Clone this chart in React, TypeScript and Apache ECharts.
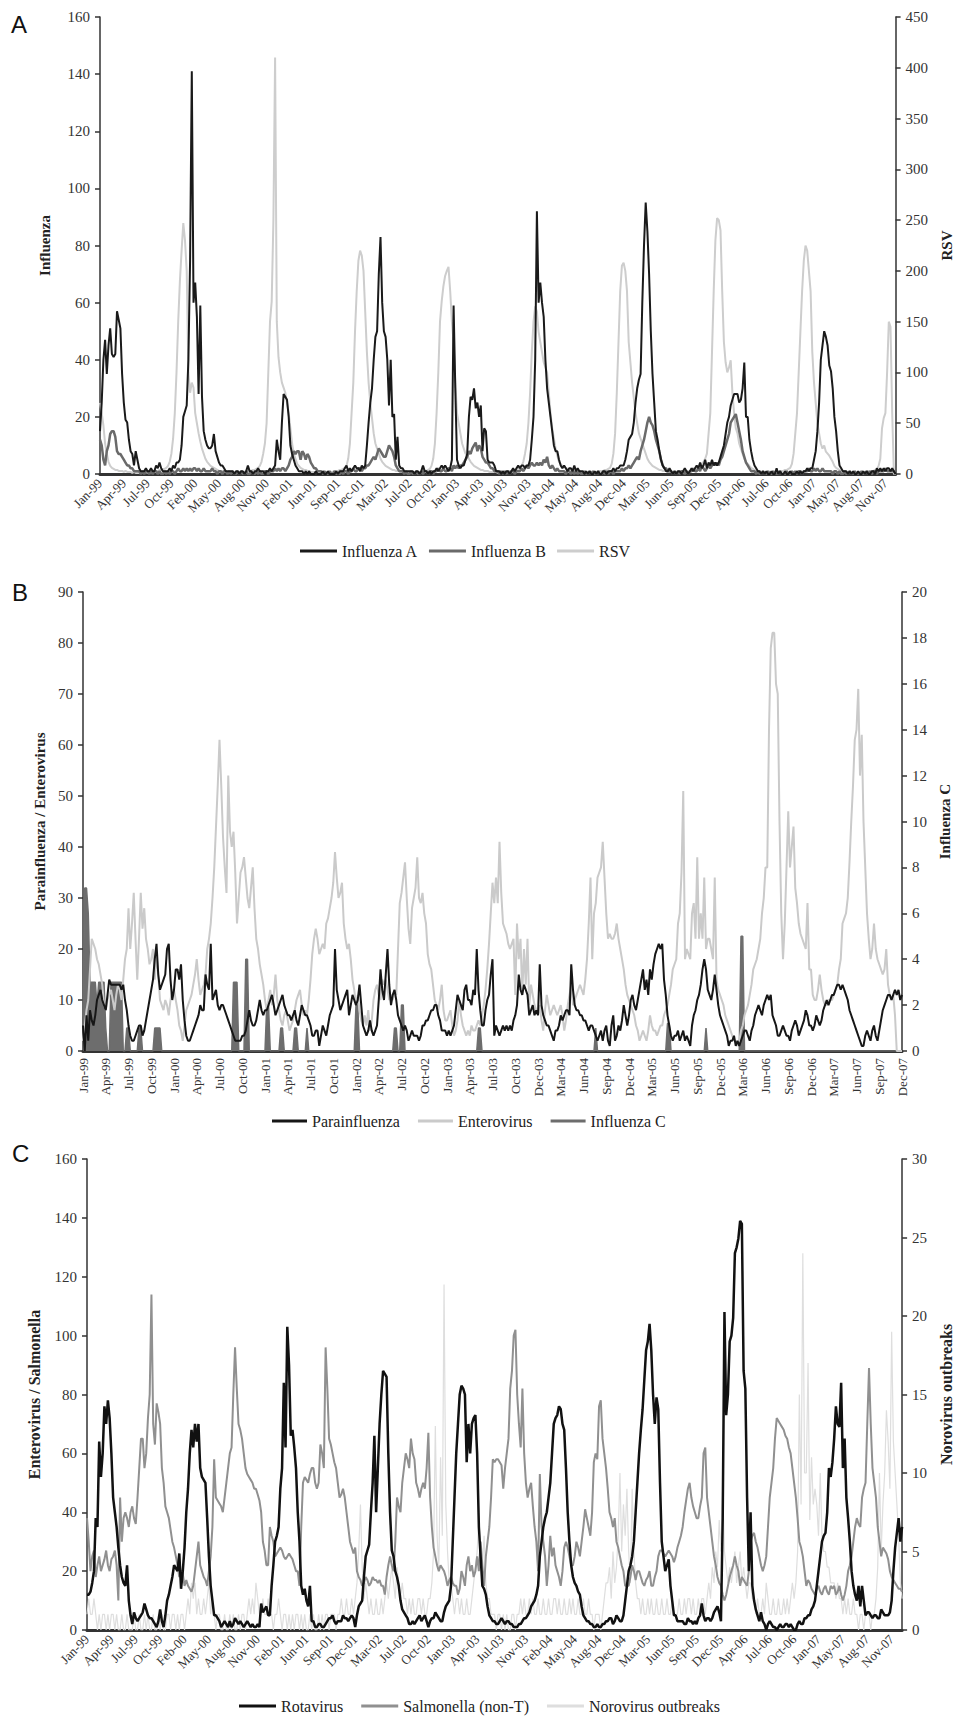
import React, { useEffect, useRef } from 'react';
import * as echarts from 'echarts';

const SERIF = 'Liberation Serif';
const SANS = 'Liberation Sans';

// Tick labels (weekly categories, Jan 1999 - Dec 2007)
const labelsAC = ['Jan-99','Apr-99','Jul-99','Oct-99','Feb-00','May-00','Aug-00','Nov-00','Feb-01','Jun-01','Sep-01','Dec-01','Mar-02','Jul-02','Oct-02','Jan-03','Apr-03','Jul-03','Nov-03','Feb-04','May-04','Aug-04','Dec-04','Mar-05','Jun-05','Sep-05','Dec-05','Apr-06','Jul-06','Oct-06','Jan-07','May-07','Aug-07','Nov-07'];
const labelsB = ['Jan-99','Apr-99','Jul-99','Oct-99','Jan-00','Apr-00','Jul-00','Oct-00','Jan-01','Apr-01','Jul-01','Oct-01','Jan-02','Apr-02','Jul-02','Oct-02','Jan-03','Apr-03','Jul-03','Oct-03','Dec-03','Mar-04','Jun-04','Sep-04','Dec-04','Mar-05','Jun-05','Sep-05','Dec-05','Mar-06','Jun-06','Sep-06','Dec-06','Mar-07','Jun-07','Sep-07','Dec-07'];

// Panel A (weekly counts)
const influenzaA = [
15,25,40,47,35,45,51,42,41,42,57,54,51,
35,25,19,18,12,8,7,3,8,5,2,1,1,
1,2,1,1,2,1,1,3,2,4,2,1,1,
1,1,2,1,3,2,4,4,5,10,20,22,24,
40,75,141,60,67,55,28,59,27,15,12,10,9,
9,10,14,8,6,4,3,3,2,1,1,1,1,
1,0,1,1,0,1,1,0,1,3,1,1,0,
1,1,2,1,1,1,0,1,1,2,1,2,3,
12,8,5,18,28,27,26,20,10,7,5,3,2,
1,1,1,0,1,0,1,0,0,0,1,0,0,
0,1,0,0,1,0,0,0,0,1,0,1,1,
1,2,3,1,2,1,2,3,2,2,1,3,2,
3,10,18,25,30,40,48,50,70,83,60,50,48,
40,24,40,20,21,5,13,3,2,2,1,1,1,
1,1,1,0,1,1,0,1,3,1,1,0,1,
0,1,1,2,1,2,3,2,3,2,1,2,5,
59,30,5,3,2,3,3,5,7,20,27,26,30,
23,25,20,24,8,16,15,5,4,4,4,3,1,
1,1,0,1,0,1,1,0,1,2,1,2,3,
2,3,3,2,3,3,5,12,20,40,92,60,67,
60,55,40,30,25,20,15,10,8,8,5,3,2,
3,2,1,2,2,1,3,1,2,1,1,1,0,
1,0,1,0,0,1,0,1,0,0,1,1,0,
1,1,1,2,1,2,2,3,3,3,5,8,12,
13,14,18,25,30,33,35,60,80,95,85,70,50,
35,25,15,12,8,5,3,2,1,1,2,1,0,
1,0,1,1,0,1,2,1,0,1,2,1,2,
3,2,4,2,3,5,2,4,3,5,3,4,3,
4,6,8,10,14,18,20,24,26,28,28,28,25,
26,30,39,20,20,12,8,5,3,2,1,1,0,
1,0,1,0,0,1,0,0,2,0,1,0,0,
1,0,0,1,0,0,0,1,0,1,0,1,1,
2,1,2,2,5,8,15,25,40,45,50,48,45,
38,36,30,20,15,8,3,2,1,1,1,0,1,
0,1,0,0,1,0,0,1,0,1,0,0,1,
1,0,2,1,2,1,2,1,2,2,1,2,1,
0];

const influenzaB = [
12,10,5,3,8,10,14,15,15,13,8,7,7,
6,5,4,3,3,2,2,1,1,1,1,0,1,
0,1,1,0,1,0,1,1,0,1,0,0,1,
0,1,0,1,1,0,1,2,1,1,2,1,2,
1,2,1,2,2,1,2,1,1,2,1,1,1,
1,2,1,1,0,1,1,0,1,1,0,1,0,
1,0,0,1,0,1,0,0,1,0,0,1,0,
0,1,0,1,0,0,1,1,0,1,1,1,2,
1,2,1,2,2,1,2,3,5,6,8,7,8,
8,5,8,7,5,7,6,4,3,2,2,1,1,
1,0,1,0,0,1,0,0,1,0,0,0,1,
0,1,1,0,1,1,2,1,1,2,2,1,2,
2,3,3,4,5,6,5,7,9,8,7,6,6,
8,10,9,8,6,3,2,1,1,1,0,1,0,
0,1,0,0,1,0,0,1,0,1,1,0,1,
1,0,1,1,2,1,1,2,1,1,2,2,1,
3,2,3,2,3,3,4,5,6,8,7,9,10,
11,8,10,9,6,5,4,4,3,2,2,1,1,
1,0,1,0,1,0,1,0,1,1,0,1,1,
1,2,1,2,3,2,3,4,3,3,4,3,4,
3,5,4,6,3,2,3,2,1,2,1,1,1,
1,0,1,1,0,1,0,1,0,1,0,0,1,
0,0,1,0,1,0,0,1,0,0,1,0,1,
0,1,1,0,1,1,1,1,2,1,2,2,3,
2,3,4,5,6,5,8,10,12,15,18,20,18,
17,15,12,10,8,5,3,2,2,1,1,1,0,
1,0,1,0,1,1,0,1,0,1,1,2,1,
1,2,1,3,2,1,2,3,2,3,4,3,4,
3,5,6,8,10,12,14,18,19,20,21,18,15,
12,8,6,4,3,2,1,1,1,0,1,0,0,
1,0,0,1,0,0,1,0,0,0,1,0,0,
0,1,0,0,1,0,1,0,1,1,0,1,1,
1,2,1,1,2,1,2,1,1,2,1,1,1,
1,1,0,1,1,0,1,0,0,1,0,0,1,
0,0,1,0,0,0,1,0,0,1,0,1,0,
1,1,0,1,1,1,1,2,1,1,1,1,1,
0];

const rsv = [
70,60,48,30,20,12,8,6,5,4,4,3,3,
3,2,3,2,2,2,1,2,1,1,1,1,2,
1,2,1,2,2,3,2,3,3,4,4,5,5,
6,8,12,20,35,60,100,150,190,220,247,230,200,
100,80,90,85,60,50,40,32,25,20,15,12,10,
8,7,6,5,4,3,3,3,2,2,2,2,1,
2,1,2,2,2,1,2,2,3,3,3,3,4,
4,5,6,8,12,20,30,50,100,150,170,250,410,
150,115,100,90,85,80,70,60,45,30,20,15,10,
8,6,5,4,4,3,3,2,2,2,2,1,1,
1,1,2,1,1,2,2,2,3,3,3,4,4,
5,6,8,15,30,60,90,140,180,210,220,215,200,
160,120,90,70,55,40,30,25,20,15,12,10,8,
7,6,5,4,4,3,3,3,2,2,2,2,1,
2,1,2,2,1,2,2,2,3,3,3,4,5,
8,15,30,60,100,150,170,185,195,200,204,180,150,
130,90,60,50,40,30,25,20,18,15,12,10,8,
7,6,5,4,4,3,3,3,2,2,2,2,2,
1,2,2,1,2,2,2,3,3,3,4,4,5,
6,8,12,20,30,50,80,120,150,165,160,140,130,
120,110,105,100,80,60,45,35,25,18,12,10,8,
7,6,5,5,4,4,3,3,3,2,2,2,2,
2,1,2,2,1,2,2,2,3,3,3,4,4,
5,6,10,20,40,80,130,180,205,208,200,180,130,
110,90,75,60,50,40,35,30,25,20,15,12,10,
8,7,6,5,4,4,3,3,3,2,2,2,2,
2,1,2,2,2,1,2,3,2,3,3,4,5,
6,7,8,10,12,15,20,40,60,120,180,230,252,
250,240,180,130,110,100,105,112,80,60,45,40,30,
25,20,15,12,10,8,6,5,4,3,3,3,2,
2,2,1,2,2,2,1,2,2,2,3,3,3,
4,4,5,6,10,20,40,60,100,140,180,210,225,
220,200,180,120,90,70,50,40,30,25,28,22,20,
18,15,12,8,6,5,4,3,3,3,2,2,2,
1,2,2,1,2,2,2,1,2,2,3,2,3,
3,4,5,8,15,45,55,60,100,150,145,60,0,
0];

// Panel B (weekly counts)
const parainfluenza = [
5,0,7,2,8,6,5,7,10,11,12,10,9,
8,11,14,13,13,13,13,13,13,12,13,10,8,
5,3,2,2,3,4,5,5,3,4,6,8,10,
12,14,18,21,15,12,13,14,15,20,21,14,10,
12,16,16,14,17,10,6,3,2,2,3,4,5,
6,7,9,8,8,15,13,12,21,10,11,12,9,
8,9,9,8,7,6,5,4,3,2,2,2,2,
3,3,4,6,8,6,5,5,6,8,10,8,7,
8,8,9,10,11,9,7,8,9,10,11,9,8,
7,7,6,7,8,6,5,7,9,8,7,7,6,
5,3,3,4,4,1,3,5,4,3,5,7,8,
9,20,12,10,8,9,10,11,12,7,9,11,10,
9,10,13,9,5,4,3,4,6,4,3,4,5,
10,16,12,10,15,20,13,9,11,12,10,7,6,
5,4,5,4,2,3,4,3,3,3,2,3,5,
5,6,6,7,8,8,9,9,7,6,4,4,4,
3,4,3,4,5,8,11,10,9,8,12,13,10,
10,9,12,11,20,12,8,5,5,8,10,11,15,
18,3,5,4,3,4,5,4,5,4,5,4,6,
7,9,15,12,11,13,12,11,7,8,9,7,8,
7,17,9,7,6,5,5,4,3,2,4,4,5,
7,6,7,8,8,7,17,12,9,8,8,7,7,
6,6,5,4,5,5,4,3,2,3,4,2,4,
5,2,1,5,7,2,3,5,4,6,9,7,5,
7,10,11,9,8,10,12,14,16,12,14,11,16,
14,17,19,20,21,20,21,14,11,7,5,3,2,
3,3,4,2,3,4,2,3,2,1,5,7,8,
10,11,13,16,18,16,12,11,10,12,15,12,9,
7,6,5,4,3,1,2,2,3,1,2,1,2,
3,4,4,3,2,4,5,7,8,9,8,7,9,
10,11,10,11,7,6,5,3,3,4,5,4,3,
3,2,4,5,6,5,3,4,5,6,8,7,5,
5,4,5,7,6,5,6,8,9,10,9,10,11,
11,12,13,13,12,13,12,11,10,8,7,6,5,
4,3,2,1,1,3,4,3,2,4,5,3,2,
4,6,8,9,10,11,11,10,11,12,11,12,10,
11];

const enterovirus = [
2,5,8,10,16,22,21,20,18,17,15,13,9,
8,10,11,12,10,8,11,13,12,10,14,18,20,
28,20,25,31,22,14,22,31,24,28,22,20,17,
18,20,14,19,15,10,9,8,10,9,7,10,12,
12,10,8,5,4,2,5,8,9,10,11,13,15,
18,14,11,12,13,15,20,22,25,30,36,44,52,
61,52,42,36,31,54,43,40,43,35,25,30,35,
36,38,34,30,28,32,36,28,22,20,17,15,13,
10,8,10,12,9,11,15,10,8,6,5,7,8,
6,4,5,6,8,10,11,12,9,7,8,7,10,
14,19,22,24,22,19,20,21,20,25,26,28,30,
33,39,34,30,31,33,25,22,20,21,18,14,12,
9,11,8,6,5,7,5,8,4,6,10,12,13,
11,10,14,13,14,12,10,11,10,12,11,20,29,
31,34,37,30,24,21,28,30,32,38,30,29,31,
27,25,19,17,16,13,10,9,8,10,13,8,6,
6,7,8,5,3,4,6,10,7,5,4,3,4,
3,5,4,4,5,6,5,7,9,12,16,21,27,
33,29,34,29,41,31,25,24,23,21,20,21,22,
11,25,18,22,11,20,13,22,9,13,11,9,8,
7,9,6,4,8,11,9,7,8,9,8,7,8,
9,7,4,6,9,11,13,9,10,11,12,13,12,
11,14,18,25,34,18,27,29,34,35,36,41,34,
27,22,23,22,22,23,25,22,20,18,16,13,11,
10,9,8,7,5,4,2,3,4,3,2,4,7,
5,4,4,3,4,5,5,7,8,9,11,13,16,
17,18,25,27,35,51,18,20,19,18,27,29,22,
38,22,27,22,34,20,22,22,20,18,34,14,12,
11,10,9,7,6,5,4,3,2,2,1,2,4,
5,7,8,9,11,13,16,17,18,20,22,27,30,
36,36,63,79,82,82,72,70,45,27,18,25,36,
47,36,40,44,32,29,25,23,22,21,20,29,16,
16,11,10,10,12,15,12,10,9,9,10,10,10,
11,12,13,16,18,25,26,27,30,37,45,52,61,
63,71,54,62,45,36,27,22,18,20,25,20,18,
17,16,15,16,20,13,11,10,11,7,0,0,0,
0];

const influenzaC = [
1.5,7.1,7.1,6,3,3,3,3,2,3,3,3,3,
1,0,0,3,3,3,3,3,3,3,0,0,1,
1,0,0,0,0,0,1,1,0,0,0,0,0,
0,0,1,1,1,1,0,0,0,0,0,0,0,
0,0,0,0,0,0,0,0,0,0,0,0,0,
0,0,0,0,0,0,0,0,0,0,0,0,0,
0,0,0,0,0,0,0,0,3,3,3,0,0,
0,0,4,4,0,0,0,0,0,0,0,0,0,
0,2,2,0,0,0,0,0,0,1,1,0,0,
0,0,0,0,1,1,0,0,0,0,0,1,0,
0,0,0,0,0,0,0,0,0,0,0,0,0,
0,0,0,0,0,0,0,0,0,0,0,0,0,
2,2,0,0,0,0,0,0,0,0,0,0,0,
0,0,0,0,0,0,0,0,0,1,1,0,0,
2,2,0,0,0,0,0,0,0,0,0,0,0,
0,0,0,0,0,0,0,0,0,0,0,0,0,
0,0,0,0,0,0,0,0,0,0,0,0,0,
0,0,0,0,0,1,1,0,0,0,0,0,0,
0,0,0,0,0,0,0,0,0,0,0,0,0,
0,0,0,0,0,0,0,0,0,0,0,0,0,
0,0,0,0,0,0,0,0,0,0,0,0,0,
0,0,0,0,0,0,0,0,0,0,0,0,0,
0,0,0,0,0,0,0,1,0,0,0,0,0,
0,0,0,0,0,0,0,0,0,0,0,0,0,
0,0,0,0,0,0,0,0,0,0,0,0,0,
0,0,0,0,0,0,0,0,0,1.2,1.2,0,0,
0,0,0,0,0,0,0,0,0,0,0,0,0,
0,0,0,0,0,1,0,0,0,0,0,0,0,
0,0,0,0,0,0,0,0,0,0,0,0,5,
5,0,0,0,0,0,0,0,0,0,0,0,0,
0,0,0,0,0,0,0,0,0,0,0,0,0,
0,0,0,0,0,0,0,0,0,0,0,0,0,
0,0,0,0,0,0,0,0,0,0,0,0,0,
0,0,0,0,0,0,0,0,0,0,0,0,0,
0,0,0,0,0,0,0,0,0,0,0,0,0,
0,0,0,0,0,0,0,0,0,0,0,0,0,
0];

// Panel C (weekly counts)
const rotavirus = [
12,12,13,16,20,38,35,64,52,60,76,70,78,
72,60,45,40,35,28,22,18,16,15,22,10,5,
2,6,4,3,4,5,6,9,7,5,4,4,3,
2,1,3,7,3,1,5,10,12,15,18,22,21,
20,26,14,20,28,40,48,60,68,62,70,64,70,
55,52,51,50,38,25,15,10,5,5,4,3,1,
2,3,2,1,3,1,2,4,3,2,3,2,1,
2,3,2,1,2,1,1,2,1,9,6,7,8,
5,5,15,22,30,32,35,48,55,84,62,103,90,
66,68,62,55,40,30,15,12,14,10,8,15,3,
3,1,1,2,2,1,1,2,3,4,4,5,3,
2,3,3,3,5,4,4,3,4,5,4,1,5,
8,9,10,18,25,27,29,40,50,66,40,55,70,
80,88,87,86,60,40,27,25,20,18,15,10,7,
6,5,4,2,2,3,2,3,4,5,3,4,5,
3,1,3,4,4,6,5,4,3,3,6,8,9,
10,15,30,45,60,70,80,83,82,80,57,70,60,
70,72,73,60,35,25,15,14,12,8,5,4,3,
3,2,2,3,4,3,2,3,3,2,2,1,1,
1,2,2,3,4,4,5,6,8,9,10,12,15,
25,30,35,38,40,45,50,60,70,72,73,76,75,
70,68,55,40,30,22,18,16,15,13,12,8,5,
4,3,3,2,2,1,1,2,1,1,2,2,3,
3,4,4,2,3,5,4,3,3,5,10,15,20,
22,25,30,40,50,60,68,75,85,95,98,104,95,
80,70,79,75,50,30,25,20,22,24,15,10,5,
5,3,3,3,3,2,2,4,3,3,2,3,2,
4,5,9,5,3,4,4,3,4,6,7,8,6,
3,38,108,73,80,98,100,106,128,130,133,139,138,
88,82,45,20,40,15,10,7,5,3,6,3,2,
0,2,3,2,1,1,0,1,2,1,1,2,2,
1,2,1,0,0,2,3,2,2,4,4,5,5,
7,8,10,15,20,25,30,32,33,40,55,52,57,
65,76,70,69,84,55,65,45,38,30,20,15,12,
10,15,8,15,10,5,6,6,5,4,5,5,4,
4,7,6,5,5,5,6,10,20,28,33,38,30,
35];

const salmonella = [
38,30,20,25,27,18,22,25,20,22,24,27,22,
20,24,25,27,22,10,45,30,38,40,38,35,40,
42,38,36,45,55,65,65,55,60,72,80,114,70,
63,77,74,70,55,50,42,40,38,34,30,28,25,
22,18,20,19,15,17,15,14,13,15,20,25,30,
22,20,18,17,15,20,25,35,58,45,44,43,42,
40,45,50,55,60,62,80,96,82,70,68,65,60,
55,53,52,51,50,48,48,46,44,40,30,27,22,
22,35,32,30,25,26,27,28,27,25,24,25,26,
25,24,22,20,20,15,35,50,52,51,50,53,55,
55,50,48,50,63,60,55,96,82,65,63,60,57,
55,50,45,46,48,45,40,35,30,28,26,28,20,
18,17,15,16,18,17,15,16,18,17,17,16,17,
15,15,12,18,22,25,22,20,30,45,42,40,50,
55,60,58,55,65,60,58,50,48,45,48,50,48,
55,67,45,35,28,25,22,20,22,21,20,18,15,
17,18,16,15,15,12,14,20,18,15,22,25,20,
22,18,20,25,20,30,22,15,25,30,35,45,58,
57,58,58,57,56,48,55,60,65,82,88,100,102,
80,70,62,82,60,50,45,48,50,42,35,30,20,
53,35,30,25,15,22,32,25,28,22,20,18,15,
20,28,30,28,25,22,22,25,30,28,25,30,35,
41,38,35,32,40,57,60,58,76,78,65,60,55,
48,40,38,35,38,30,28,25,22,20,15,15,15,
18,22,20,17,20,20,18,16,15,17,18,20,15,
15,18,20,25,27,27,26,25,26,27,26,25,23,
25,28,30,32,35,40,44,48,50,45,42,40,38,
38,42,45,60,62,45,40,35,30,25,22,18,16,
15,12,10,12,15,18,20,22,25,22,20,15,18,
17,16,15,20,30,32,33,30,28,25,22,20,22,
25,35,45,50,55,65,72,71,70,69,68,66,65,
62,60,55,50,45,38,30,28,25,20,15,17,16,
14,13,12,14,15,13,12,14,15,13,12,15,14,
15,12,13,15,12,10,12,15,20,22,25,30,35,
38,36,35,45,48,50,70,89,70,55,50,45,35,
30,25,28,27,26,24,20,18,17,16,15,14,14,
13];

const norovirus = [
1,2,1,1,2,1,0,1,0,1,1,0,1,
0,1,1,0,1,0,0,1,0,0,1,0,0,
0,1,0,0,1,0,0,1,0,1,0,0,1,
0,0,1,0,1,0,0,1,1,0,1,1,0,
1,0,1,1,0,1,2,1,3,2,3,1,2,
1,1,2,1,2,3,1,2,1,0,1,1,0,
0,1,0,0,1,0,1,0,0,1,0,1,1,
0,1,2,1,2,1,3,2,1,1,2,1,1,
2,1,1,0,1,1,2,1,0,1,1,0,1,
0,1,0,1,1,0,1,0,1,0,0,1,0,
1,0,0,1,0,1,0,1,1,0,1,1,1,
0,1,1,2,1,1,2,1,1,2,1,2,3,
5,8,4,2,3,2,1,2,1,1,2,1,1,
2,1,2,3,2,3,4,3,2,4,3,2,3,
2,2,1,2,1,2,1,1,2,2,1,2,1,
1,2,2,3,5,13,6,4,11,6,22,8,5,
3,3,2,1,2,2,1,2,1,1,2,1,1,
2,3,4,5,7,5,4,6,3,2,2,1,1,
1,0,1,1,0,1,0,1,0,0,1,1,0,
1,1,2,1,2,1,1,2,1,2,1,1,2,
1,1,2,1,1,2,1,1,2,2,1,2,1,
1,2,1,1,2,1,2,1,1,2,1,1,2,
1,1,2,1,1,0,1,1,1,0,1,2,3,
3,4,2,5,3,4,6,10,5,8,6,9,5,
3,9,5,3,2,2,1,2,1,1,2,1,2,
1,1,2,1,1,2,1,1,2,1,1,2,1,
1,1,2,1,1,2,1,2,2,1,2,1,1,
2,1,2,2,1,2,3,2,4,3,5,4,7,
5,9,5,4,3,4,3,4,5,3,4,5,3,
4,3,2,3,3,2,2,1,2,1,1,2,1,
3,2,1,1,2,1,1,2,1,1,2,1,2,
1,2,3,2,3,5,15,8,24,10,10,17,7,
11,8,9,8,6,10,6,5,5,4,4,3,3,
3,2,3,2,2,1,2,1,2,1,1,2,1,
1,0,1,1,0,1,1,1,0,1,1,2,4,
10,5,8,10,14,12,9,19,12,10,8,6,3,
2];

const weeks = influenzaA.map((_, i) => String(i));

function buildOption() {
  const axisColor = '#333';
  const mkX = (gridIndex: number, labels: string[], step: number, rotate: number) => ({
    type: 'category',
    gridIndex,
    data: weeks,
    boundaryGap: false,
    axisLine: { lineStyle: { color: axisColor, width: 3 } },
    axisTick: { show: false },
    axisLabel: {
      interval: step - 1,
      rotate,
      margin: 7,
      fontFamily: SERIF,
      fontSize: 13,
      color: '#333',
      formatter: (_v: string, i: number) => (i % step === 0 ? labels[i / step] ?? '' : ''),
    },
    splitLine: { show: false },
  });
  const mkY = (gridIndex: number, max: number, interval: number, name: string, nameGap: number, position: string, nameSize: number) => ({
    type: 'value',
    gridIndex,
    min: 0,
    max,
    interval,
    position,
    name,
    nameLocation: 'middle',
    nameGap,
    nameRotate: 90,
    nameTextStyle: { fontFamily: SERIF, fontWeight: 'bold', fontSize: nameSize, color: '#222' },
    axisLine: { show: true, lineStyle: { color: axisColor, width: 1.5 } },
    axisTick: { show: true, length: 5, lineStyle: { color: axisColor, width: 1.5 } },
    axisLabel: { fontFamily: SERIF, fontSize: 15, color: '#333', margin: 10 },
    splitLine: { show: false },
  });
  const line = (name: string, data: number[], xi: number, yi: number, color: string, width: number, area = false) => ({
    type: 'line',
    name,
    data,
    xAxisIndex: xi,
    yAxisIndex: yi,
    symbol: 'none',
    showSymbol: false,
    silent: true,
    color,
    lineStyle: { color, width },
    itemStyle: { color },
    areaStyle: area ? { color, opacity: 1 } : undefined,
  });
  const legendText = { fontFamily: SERIF, fontSize: 16, color: '#222' };
  const legendBase = { icon: 'rect', itemHeight: 3, padding: 0, textStyle: legendText, selectedMode: false };

  return {
    animation: false,
    backgroundColor: '#ffffff',
    grid: [
      { left: 100, top: 17, width: 797, height: 457 },
      { left: 83, top: 592, width: 819, height: 459 },
      { left: 87, top: 1159, width: 826, height: 471 },
    ],
    xAxis: [
      mkX(0, labelsAC, 14, 45),
      mkX(1, labelsB, 13, 90),
      mkX(2, labelsAC, 14, 45),
    ],
    yAxis: [
      mkY(0, 160, 20, 'Influenza', 48, 'left', 15),
      mkY(0, 450, 50, 'RSV', 35, 'right', 15),
      mkY(1, 90, 10, 'Parainfluenza / Enterovirus', 34, 'left', 15),
      mkY(1, 20, 2, 'Influenza C', 31, 'right', 15),
      mkY(2, 160, 20, 'Enterovirus / Salmonella', 45, 'left', 16),
      mkY(2, 30, 5, 'Norovirus outbreaks', 34, 'right', 16),
    ],
    legend: [
      { ...legendBase, data: ['Influenza A', 'Influenza B', 'RSV'], left: 300, top: 543, itemWidth: 37, itemGap: 11 },
      { ...legendBase, data: ['Parainfluenza', 'Enterovirus', 'Influenza C'], left: 272, top: 1113, itemWidth: 35, itemGap: 18 },
      { ...legendBase, data: ['Rotavirus', 'Salmonella (non-T)', 'Norovirus outbreaks'], left: 239, top: 1698, itemWidth: 37, itemGap: 18 },
    ],
    graphic: [
      { type: 'text', left: 11, top: 12, style: { text: 'A', fontFamily: SANS, fontSize: 24, fill: '#111' } },
      { type: 'text', left: 12, top: 580, style: { text: 'B', fontFamily: SANS, fontSize: 24, fill: '#111' } },
      { type: 'text', left: 12, top: 1141, style: { text: 'C', fontFamily: SANS, fontSize: 24, fill: '#111' } },
    ],
    series: [
      line('RSV', rsv, 0, 1, '#cdcdcd', 2),
      line('Influenza B', influenzaB, 0, 0, '#6a6a6a', 2.5),
      line('Influenza A', influenzaA, 0, 0, '#1a1a1a', 2),
      line('Influenza C', influenzaC, 1, 3, '#6d6d6d', 1.5, true),
      line('Enterovirus', enterovirus, 1, 2, '#cacaca', 2),
      line('Parainfluenza', parainfluenza, 1, 2, '#161616', 2),
      line('Norovirus outbreaks', norovirus, 2, 5, '#dedede', 1.2),
      line('Salmonella (non-T)', salmonella, 2, 4, '#909090', 2),
      line('Rotavirus', rotavirus, 2, 4, '#111111', 2.5),
    ],
  };
}

export default function App() {
  const ref = useRef<HTMLDivElement>(null);
  useEffect(() => {
    if (!ref.current) return;
    const chart = echarts.init(ref.current, null, { renderer: 'svg' });
    chart.setOption(buildOption() as any);
    return () => chart.dispose();
  }, []);
  return (
    <div
      ref={ref}
      style={{ position: 'absolute', left: 0, top: 0, width: 962, height: 1717, background: '#fff' }}
    />
  );
}
